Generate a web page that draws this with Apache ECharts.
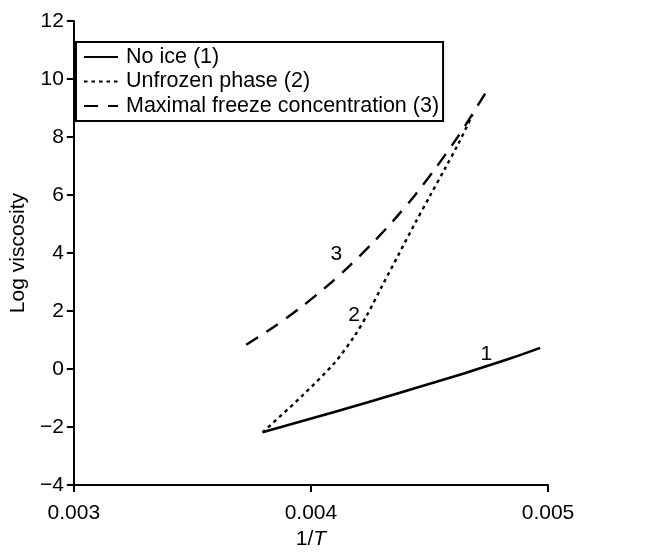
<!DOCTYPE html>
<html>
<head>
<meta charset="utf-8">
<script src="https://cdn.jsdelivr.net/npm/echarts@6/dist/echarts.min.js"></script>
<style>
  html, body { margin: 0; padding: 0; background: #fff; }
  #chart { width: 652px; height: 555px; }
</style>
</head>
<body>
<div id="chart"></div>
<script>
// Reciprocal temperature (1/T) and log viscosity for each curve
const noIceX = [0.003796, 0.004099, 0.004375, 0.004649, 0.004843, 0.004967];
const noIceY = [-2.18, -1.48, -0.82, -0.14, 0.37, 0.73];

const unfrozenX = [0.003796, 0.003962, 0.004099, 0.004182, 0.004237, 0.004298, 0.004368, 0.004438, 0.004504, 0.004566, 0.004620, 0.004661, 0.004682];
const unfrozenY = [-2.18, -0.93, 0.21, 1.12, 1.87, 2.83, 3.92, 5.01, 6.00, 6.92, 7.74, 8.42, 8.77];

const maxFreezeX = [0.003727, 0.003843, 0.003955, 0.004058, 0.004154, 0.004256, 0.004347, 0.004443, 0.004526, 0.004609, 0.004678, 0.004747];
const maxFreezeY = [0.84, 1.45, 2.11, 2.79, 3.49, 4.31, 5.11, 6.04, 6.93, 7.88, 8.75, 9.66];

const seriesNames = ['No ice (1)', 'Unfrozen phase (2)', 'Maximal freeze concentration (3)'];
const curveTags = ['1', '2', '3'];
const tagX = [0.004740, 0.004182, 0.004107];
const tagY = [0.51, 1.87, 3.95];

const xTicks = { min: 0.003, max: 0.005, step: 0.001 };
const yTicks = { min: -4, max: 12, step: 2 };

const FONT = '"Liberation Sans", Arial, Helvetica, sans-serif';
const FS = 21;
const zip = (xs, ys) => xs.map((x, i) => [x, ys[i]]);

function curve(name, xs, ys, dash, width, idx) {
  return {
    name: name,
    type: 'line',
    data: zip(xs, ys),
    showSymbol: false,
    symbol: 'none',
    smooth: 0.3,
    lineStyle: { color: '#000', width: width, type: dash, cap: 'butt' },
    itemStyle: { color: '#000' },
    z: 3,
    markPoint: {
      symbol: 'circle',
      symbolSize: 1,
      silent: true,
      itemStyle: { color: 'rgba(0,0,0,0)' },
      data: [{
        coord: [tagX[idx], tagY[idx]],
        label: {
          show: true, formatter: curveTags[idx], color: '#000',
          fontSize: FS, fontFamily: FONT, position: 'inside'
        }
      }]
    }
  };
}

const chart = echarts.init(document.getElementById('chart'));
chart.setOption({
  animation: false,
  backgroundColor: '#fff',
  grid: { left: 64, right: 104, top: 21, bottom: 65, containLabel: false },
  legend: {
    data: seriesNames,
    orient: 'vertical',
    left: 76, top: 42,
    itemWidth: 34, itemHeight: 14, itemGap: 2.5,
    padding: [4, 4, 4, 7],
    borderColor: '#000', borderWidth: 2,
    backgroundColor: '#fff',
    itemStyle: { opacity: 0, borderWidth: 0 },
    textStyle: { color: '#000', fontSize: 21.5, fontFamily: FONT, lineHeight: 21, padding: [0, 0, 0, 3] },
    selectedMode: false
  },
  xAxis: {
    type: 'value',
    min: xTicks.min, max: xTicks.max, interval: xTicks.step,
    name: '{a|1/}{b|T}',
    nameLocation: 'middle', nameGap: 43,
    nameTextStyle: {
      rich: {
        a: { fontSize: FS, fontFamily: FONT, color: '#000' },
        b: { fontSize: FS, fontFamily: FONT, color: '#000', fontStyle: 'italic' }
      }
    },
    axisLine: { onZero: false, lineStyle: { color: '#000', width: 2 } },
    axisTick: { show: true, length: 7, lineStyle: { color: '#000', width: 2 } },
    axisLabel: { color: '#000', fontSize: FS, fontFamily: FONT, margin: 18,
                 formatter: v => v.toFixed(3) },
    splitLine: { show: false }
  },
  yAxis: {
    type: 'value',
    min: yTicks.min, max: yTicks.max, interval: yTicks.step,
    name: 'Log viscosity',
    nameLocation: 'middle', nameGap: 44, nameRotate: 90,
    nameTextStyle: { fontSize: FS, fontFamily: FONT, color: '#000' },
    axisLine: { onZero: false, lineStyle: { color: '#000', width: 2 } },
    axisTick: { show: true, length: 7, lineStyle: { color: '#000', width: 2 } },
    axisLabel: { color: '#000', fontSize: FS, fontFamily: FONT, margin: 10,
                 formatter: v => (v < 0 ? '\u2212' + Math.abs(v) : String(v)) },
    splitLine: { show: false }
  },
  series: [
    curve(seriesNames[0], noIceX, noIceY, 'solid', 2.6, 0),
    curve(seriesNames[1], unfrozenX, unfrozenY, [3.5, 4], 2.4, 1),
    curve(seriesNames[2], maxFreezeX, maxFreezeY, [14, 10], 2.4, 2)
  ]
});
</script>
</body>
</html>
